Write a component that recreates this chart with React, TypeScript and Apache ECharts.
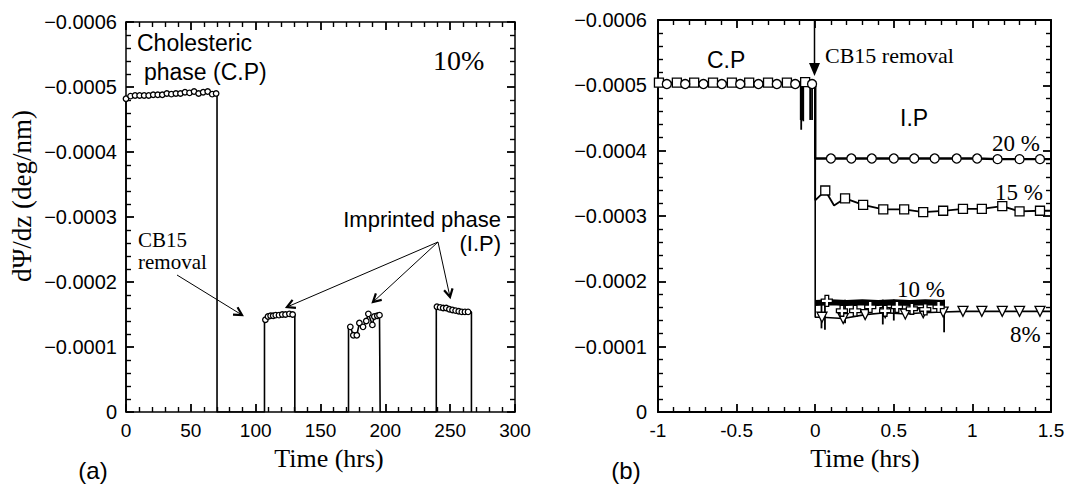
import React, { useEffect, useRef } from "react";
import * as echarts from "echarts";

// ---------- Panel (a): 10% sample, Time (hrs) ----------
const segStart = [0, 106.8, 171.6, 239.3];
const segEnd = [70.2, 130.2, 196, 266.4];
const seg1T = [0, 3.5, 7, 10.5, 14, 17.5, 21, 24.5, 28, 31.5, 35, 38.5, 42, 45.5, 49, 52.5, 56, 59.5, 63, 66.5, 69.5];
const seg1V = [-0.000482, -0.000486, -0.000487, -0.000487, -0.000487, -0.000487, -0.000488, -0.000488, -0.000488, -0.00049, -0.000489, -0.00049, -0.00049, -0.000492, -0.000491, -0.000493, -0.00049, -0.000492, -0.000493, -0.000489, -0.00049];
const seg2T = [107.5, 109.5, 111.5, 113.5, 115.5, 118, 120.5, 123, 126, 128.5];
const seg2V = [-0.000142, -0.000147, -0.000148, -0.000148, -0.000149, -0.000149, -0.00015, -0.00015, -0.000151, -0.00015];
const seg3T = [173, 175.3, 178, 180, 182.8, 185.3, 186.9, 190, 191.5, 193.8, 195.5];
const seg3V = [-0.000131, -0.000118, -0.000118, -0.000137, -0.000131, -0.00014, -0.000151, -0.000134, -0.000147, -0.000148, -0.000149];
const seg4T = [239.8, 242.2, 244.6, 247, 249.4, 251.8, 254.2, 256.6, 259, 261.4, 263.8];
const seg4V = [-0.000162, -0.000161, -0.00016, -0.00016, -0.000158, -0.000157, -0.000156, -0.000155, -0.000154, -0.000154, -0.000154];

// ---------- Panel (b): Time (hrs) ----------
const cpCircT = [-0.944, -0.827, -0.711, -0.594, -0.477, -0.361, -0.244, -0.127, -0.02];
const cpCircV = [-0.000502, -0.000502, -0.000502, -0.000502, -0.000502, -0.000502, -0.000502, -0.000502, -0.000502];
const cpSqT = [-0.994, -0.88, -0.77, -0.65, -0.53, -0.42, -0.3, -0.18, -0.064];
const cpSqV = [-0.000504, -0.000504, -0.000504, -0.000504, -0.000504, -0.000504, -0.000504, -0.000504, -0.000505];

const ip20T = [0.1, 0.23, 0.36, 0.5, 0.63, 0.76, 0.9, 1.03, 1.16, 1.3, 1.43];
const ip20V = [-0.000388, -0.000388, -0.000388, -0.000388, -0.000388, -0.000388, -0.000388, -0.000388, -0.000387, -0.000387, -0.000387];
const ip15T = [0.064, 0.19, 0.305, 0.433, 0.566, 0.687, 0.814, 0.94, 1.06, 1.19, 1.3, 1.43];
const ip15V = [-0.000339, -0.000327, -0.000317, -0.00031, -0.00031, -0.000306, -0.000308, -0.000311, -0.000311, -0.000315, -0.000307, -0.000308];
const ip15KinkT = [0, 0.12];
const ip15KinkV = [-0.000324, -0.000316];
const ip10BandT = [0, 0.1, 0.2, 0.3, 0.4, 0.5, 0.6, 0.7, 0.82];
const ip10BandV = [-0.000167, -0.000168, -0.000167, -0.000168, -0.000167, -0.000168, -0.000167, -0.000168, -0.000167];
const ip10T = [0.074, 0.17, 0.254, 0.35, 0.445, 0.52, 0.615, 0.7, 0.785];
const ip10V = [-0.00017, -0.000155, -0.000155, -0.000161, -0.000155, -0.000161, -0.000158, -0.000157, -0.000161];
const ip8T = [0.043, 0.178, 0.318, 0.445, 0.573, 0.687, 0.814, 0.94, 1.06, 1.19, 1.3, 1.43];
const ip8V = [-0.000145, -0.000143, -0.000149, -0.000152, -0.00015, -0.000152, -0.000153, -0.000154, -0.000154, -0.000154, -0.000154, -0.000154];
const cpEndV = -0.000503;

const errT = [-0.092, -0.089, -0.086, -0.083, -0.08, -0.076, -0.032, -0.02, 0.04, 0.062, 0.19, 0.43, 0.5, 0.82];
const errLo = [-0.000447, -0.000432, -0.000447, -0.00045, -0.000447, -0.000445, -0.000447, -0.000447, -0.000128, -0.000126, -0.000136, -0.000134, -0.00014, -0.000122];
const errHi = [-0.000505, -0.000505, -0.000505, -0.000505, -0.000505, -0.000505, -0.000505, -0.000505, -0.000172, -0.000172, -0.000172, -0.000172, -0.000172, -0.000172];

const xTicksA = { min: 0, max: 300, interval: 50 };
const xTicksB = { min: -1, max: 1.5, interval: 0.5 };
const yTicks = { min: -0.0006, max: 0, interval: 0.0001 };

const SANS = '"Liberation Sans", Arial, sans-serif';
const SERIF = '"Liberation Serif", "Times New Roman", serif';

const zip = (t: number[], v: number[]) => t.map((x, i) => [x, v[i]]);

function arrowEls(x1: number, y1: number, x2: number, y2: number, head = 9) {
  const ang = Math.atan2(y2 - y1, x2 - x1);
  const a1 = ang + Math.PI - 0.5;
  const a2 = ang + Math.PI + 0.5;
  return [
    { type: "line", shape: { x1, y1, x2, y2 }, style: { stroke: "#000", lineWidth: 1 } },
    {
      type: "polyline",
      shape: {
        points: [
          [x2 + head * Math.cos(a1), y2 + head * Math.sin(a1)],
          [x2, y2],
          [x2 + head * Math.cos(a2), y2 + head * Math.sin(a2)],
        ],
      },
      style: { stroke: "#000", lineWidth: 2.2, fill: "none" },
    },
  ];
}

function txt(text: string, x: number, y: number, font: string, align = "left", rotation = 0) {
  return {
    type: "text",
    x,
    y,
    rotation,
    style: { text, font, fill: "#000", align, verticalAlign: "middle" },
  };
}

const yFmt = (v: number) => (Math.abs(v) < 1e-12 ? "0" : "\u2212" + Math.abs(v).toFixed(4));

function axisBase(lw: number) {
  return {
    axisLine: { show: true, onZero: false, lineStyle: { color: "#000", width: lw } },
    axisTick: { show: true, inside: true, length: 8, lineStyle: { color: "#000", width: 1.8 } },
    minorTick: { show: true, splitNumber: 5, length: 5, lineStyle: { color: "#000", width: 1.4 } },
    splitLine: { show: false },
    minorSplitLine: { show: false },
  };
}

export default function App() {
  const ref = useRef<HTMLDivElement>(null);
  useEffect(() => {
    document.body.style.margin = "0";
    const chart = echarts.init(ref.current!, undefined, { renderer: "svg" });

    const segsT = [seg1T, seg2T, seg3T, seg4T];
    const segsV = [seg1V, seg2V, seg3V, seg4V];
    const outline: any[] = [];
    const markersA: any[] = [];
    segsT.forEach((t, i) => {
      const v = segsV[i];
      outline.push([segStart[i], 0], [segStart[i], v[0]]);
      zip(t, v).forEach((p) => {
        outline.push(p);
        markersA.push(p);
      });
      outline.push([segEnd[i], v[v.length - 1]], [segEnd[i], 0]);
    });

    const line20 = [
      ...zip(cpCircT, cpCircV),
      [0, cpCircV[cpCircV.length - 1]],
      [0, ip20V[0]],
      ...zip(ip20T, ip20V),
      [1.5, ip20V[ip20V.length - 1]],
    ];
    const ip15All = zip([...ip15KinkT, ...ip15T], [...ip15KinkV, ...ip15V]).sort((a, b) => a[0] - b[0]);
    const line15 = [
      ...zip(cpSqT, cpSqV),
      [0, cpSqV[cpSqV.length - 1]],
      ...ip15All,
      [1.5, ip15V[ip15V.length - 1]],
    ];
    const line10 = zip(ip10BandT, ip10BandV);
    const line8 = [[0, cpEndV], [0, ip8V[0]], ...zip(ip8T, ip8V), [1.5, ip8V[ip8V.length - 1]]];

    const plusPath = "path://M3,0H6V3H9V6H6V9H3V6H0V3H3Z";
    const mk = () => ({ color: "#fff", borderColor: "#000", borderWidth: 1.3, opacity: 1 });

    const graphics: any[] = [
      txt("Cholesteric", 137, 43, `23px ${SANS}`),
      txt("phase (C.P)", 144, 72, `23px ${SANS}`),
      txt("10%", 433, 60, `28px ${SERIF}`),
      txt("CB15", 138, 240, `21px ${SERIF}`),
      txt("removal", 138, 262, `21px ${SERIF}`),
      txt("Imprinted phase", 501, 219, `22px ${SANS}`, "right"),
      txt("(I.P)", 501, 243, `22px ${SANS}`, "right"),
      ...arrowEls(177, 275, 242, 315),
      ...arrowEls(438, 242, 287, 307),
      ...arrowEls(438, 242, 373, 302),
      ...arrowEls(438, 242, 450, 297),
      txt("d\u03a8/dz (deg/nm)", 22, 196, `27px ${SERIF}`, "center", Math.PI / 2),
      txt("Time (hrs)", 329, 458, `26px ${SERIF}`, "center"),
      txt("(a)", 93, 470, `24px ${SANS}`, "center"),
      txt("C.P", 707, 60, `23px ${SANS}`),
      txt("CB15 removal", 825, 55, `22px ${SERIF}`),
      { type: "line", shape: { x1: 814.5, y1: 20, x2: 814.5, y2: 64 }, style: { stroke: "#000", lineWidth: 1.5 } },
      { type: "polygon", shape: { points: [[809, 63], [820, 63], [814.5, 76]] }, style: { fill: "#000" } },
      txt("I.P", 900, 118, `23px ${SANS}`),
      txt("20 %", 992, 143, `23px ${SERIF}`),
      txt("15 %", 995, 192, `23px ${SERIF}`),
      txt("10 %", 897, 289, `23px ${SERIF}`),
      txt("8%", 1010, 334, `23px ${SERIF}`),
      txt("Time (hrs)", 865, 458, `26px ${SERIF}`, "center"),
      txt("(b)", 626, 470, `24px ${SANS}`, "center"),
    ];

    const labelX = { color: "#000", fontFamily: SANS, fontSize: 19, margin: 9 };
    const labelY = { color: "#000", fontFamily: SANS, fontSize: 20, margin: 9, formatter: yFmt };

    chart.setOption({
      animation: false,
      backgroundColor: "#fff",
      grid: [
        { left: 126, top: 22, width: 389, height: 390 },
        { left: 658, top: 20, width: 393, height: 392 },
      ],
      xAxis: [
        { type: "value", gridIndex: 0, position: "bottom", ...xTicksA, ...axisBase(1.5), axisLabel: labelX },
        { type: "value", gridIndex: 0, position: "top", ...xTicksA, ...axisBase(1.5), axisLabel: { show: false } },
        { type: "value", gridIndex: 1, position: "bottom", ...xTicksB, ...axisBase(2), axisLabel: labelX },
        { type: "value", gridIndex: 1, position: "top", ...xTicksB, ...axisBase(2), axisLabel: { show: false } },
      ],
      yAxis: [
        { type: "value", gridIndex: 0, position: "left", inverse: true, ...yTicks, ...axisBase(1.5), axisLabel: labelY },
        { type: "value", gridIndex: 0, position: "right", inverse: true, ...yTicks, ...axisBase(1.5), axisLabel: { show: false } },
        { type: "value", gridIndex: 1, position: "left", inverse: true, ...yTicks, ...axisBase(2), axisLabel: { ...labelY, margin: 11 } },
        { type: "value", gridIndex: 1, position: "right", inverse: true, ...yTicks, ...axisBase(2), axisLabel: { show: false } },
      ],
      series: [
        { type: "line", xAxisIndex: 0, yAxisIndex: 0, data: outline, showSymbol: false, lineStyle: { color: "#000", width: 1.6 }, z: 2 },
        { type: "scatter", xAxisIndex: 0, yAxisIndex: 0, data: markersA, symbol: "circle", symbolSize: 5.5, itemStyle: mk(), z: 3 },
        { type: "line", xAxisIndex: 2, yAxisIndex: 2, data: line8, showSymbol: false, lineStyle: { color: "#000", width: 1.6 }, z: 2 },
        { type: "line", xAxisIndex: 2, yAxisIndex: 2, data: line10, showSymbol: false, lineStyle: { color: "#000", width: 6 }, z: 2 },
        { type: "line", xAxisIndex: 2, yAxisIndex: 2, data: line15, showSymbol: false, lineStyle: { color: "#000", width: 1.8 }, z: 2 },
        { type: "line", xAxisIndex: 2, yAxisIndex: 2, data: line20, showSymbol: false, lineStyle: { color: "#000", width: 2.4 }, z: 2 },
        {
          type: "custom", xAxisIndex: 2, yAxisIndex: 2, z: 2,
          data: errT.map((t, i) => [t, errLo[i], errHi[i]]),
          renderItem: (params: any, api: any) => {
            const p1 = api.coord([api.value(0), api.value(1)]);
            const p2 = api.coord([api.value(0), api.value(2)]);
            return { type: "line", shape: { x1: p1[0], y1: p1[1], x2: p2[0], y2: p2[1] }, style: { stroke: "#000", lineWidth: 1.8 } };
          },
        },
        { type: "scatter", xAxisIndex: 2, yAxisIndex: 2, data: zip(ip8T, ip8V), symbol: "triangle", symbolRotate: 180, symbolSize: 10, itemStyle: mk(), z: 3 },
        { type: "scatter", xAxisIndex: 2, yAxisIndex: 2, data: zip(ip10T, ip10V), symbol: plusPath, symbolSize: 11, itemStyle: mk(), z: 3 },
        { type: "scatter", xAxisIndex: 2, yAxisIndex: 2, data: [...zip(cpSqT, cpSqV), ...zip(ip15T, ip15V)], symbol: "rect", symbolSize: 9, itemStyle: mk(), z: 3 },
        { type: "scatter", xAxisIndex: 2, yAxisIndex: 2, data: [...zip(cpCircT, cpCircV), ...zip(ip20T, ip20V)], symbol: "circle", symbolSize: 9, itemStyle: mk(), z: 3 },
      ],
      graphic: graphics,
    });
    return () => chart.dispose();
  }, []);
  return <div ref={ref} style={{ width: 1070, height: 491 }} />;
}
